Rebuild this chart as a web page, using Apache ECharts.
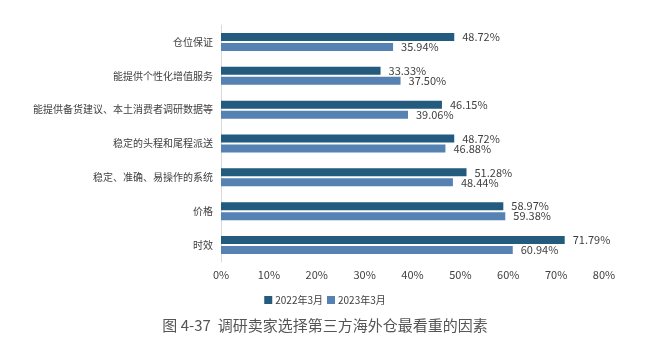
<!DOCTYPE html>
<html>
<head>
<meta charset="utf-8">
<script src="https://cdn.jsdelivr.net/npm/echarts@6/dist/echarts.min.js"></script>
<style>
  html, body { margin: 0; padding: 0; background: #fff; }
  #chart { width: 650px; height: 340px; }
</style>
</head>
<body>
<div id="chart"></div>
<script>
// Factors, listed top to bottom
const categories = ['仓位保证', '能提供个性化增值服务', '能提供备货建议、本土消费者调研数据等', '稳定的头程和尾程派送', '稳定、准确、易操作的系统', '价格', '时效'];
const seriesNames = ['2022年3月', '2023年3月'];
const values2022 = [48.72, 33.33, 46.15, 48.72, 51.28, 58.97, 71.79];
const values2023 = [35.94, 37.50, 39.06, 46.88, 48.44, 59.38, 60.94];
const xTicks = [0, 10, 20, 30, 40, 50, 60, 70, 80];

const font = '"Noto Sans CJK SC", "Noto Sans", sans-serif';
const colors = ['#235B7E', '#5681B3'];

const chart = echarts.init(document.getElementById('chart'));

const label = {
  show: true,
  position: 'right',
  distance: 8,
  color: '#404040',
  fontSize: 11,
  fontFamily: font,
  formatter: p => p.value.toFixed(2) + '%'
};

chart.setOption({
  animation: false,
  textStyle: { fontFamily: font },
  title: {
    text: '图 4-37  调研卖家选择第三方海外仓最看重的因素',
    left: 'center',
    top: 313,
    textStyle: { fontSize: 15, fontWeight: 'normal', color: '#555', fontFamily: font }
  },
  legend: {
    data: seriesNames,
    top: 290,
    left: 'center',
    itemWidth: 8,
    itemHeight: 8,
    itemGap: 4,
    icon: 'rect',
    textStyle: { fontSize: 10, color: '#404040', fontFamily: font, padding: [0, 0, 0, -2] }
  },
  grid: { left: 221, right: 46, top: 25, bottom: 78, containLabel: false },
  xAxis: {
    type: 'value',
    min: xTicks[0],
    max: xTicks[xTicks.length - 1],
    interval: 10,
    axisLine: { show: false },
    axisTick: { show: false },
    splitLine: { show: false },
    axisLabel: { formatter: '{value}%', fontSize: 11, color: '#404040', margin: 7, fontFamily: font }
  },
  yAxis: {
    type: 'category',
    data: categories,
    inverse: true,
    axisLine: { show: true, lineStyle: { color: '#d9d9d9', width: 1 } },
    axisTick: { show: false },
    axisLabel: { fontSize: 10, color: '#404040', margin: 8, fontFamily: font }
  },
  series: [
    { name: seriesNames[0], type: 'bar', data: values2022, itemStyle: { color: colors[0] }, barWidth: 8, barGap: '25%', label },
    { name: seriesNames[1], type: 'bar', data: values2023, itemStyle: { color: colors[1] }, barWidth: 8, label }
  ]
});
</script>
</body>
</html>
